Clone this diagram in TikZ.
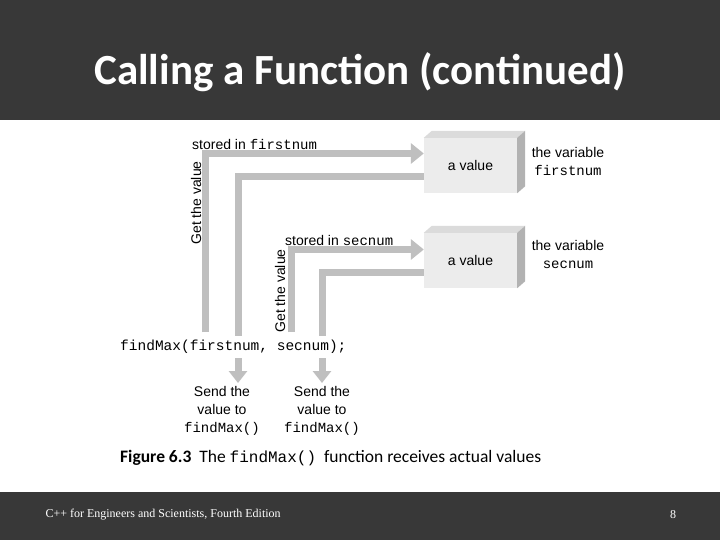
\documentclass[tikz,border=0pt]{standalone}
\usepackage{fontspec}
\setmainfont{Carlito}
\newfontfamily\arialf{Liberation Sans}
\newfontfamily\courf{Liberation Mono}
\newfontfamily\timesf{Liberation Serif}
\usetikzlibrary{arrows.meta}
\begin{document}
\begin{tikzpicture}[x=1pt,y=-1pt,
  bar/.style={line width=7pt,draw=gray!50},
  barh/.style={bar,-{Triangle[length=13pt,width=20pt]}},
  bard/.style={bar,-{Triangle[length=12pt,width=18pt]}},
  lab/.style={font=\arialf\fontsize{14}{15}\selectfont,inner sep=0pt},
  code/.style={font=\courf\fontsize{14.5}{15}\selectfont,inner sep=0pt},
  boxf/.style={fill=gray!15,minimum width=93pt,minimum height=55pt,inner sep=0pt,font=\arialf\fontsize{14}{15}\selectfont}]
\useasboundingbox (0,0) rectangle (720,540);
\fill[white] (0,0) rectangle (720,540);
\fill[black!78] (0,0) rectangle (720,120);
\fill[black!78] (0,492) rectangle (720,540);
\node[text=white,font=\bfseries\fontsize{43}{48}\selectfont] (title) at (360,72) {Calling a Function (continued)};
\node[text=white,anchor=west,font=\timesf\fontsize{12}{13}\selectfont] (foot) at (42,515) {C++ for Engineers and Scientists, Fourth Edition};
\node[text=white,font=\timesf\fontsize{12}{13}\selectfont] (pg) at (673,515) {8};
% boxes
\node[boxf] (b1) at (470.5,165.5) {a value};
\node[boxf] (b2) at (470.5,260.5) {a value};
\foreach \b in {b1,b2}{
  \fill[gray!28] (\b.north west) -- ++(8,-7) -- ([shift={(8,-7)}]\b.north east) -- (\b.north east) -- cycle;
  \fill[gray!60] (\b.north east) -- ++(8,-7) -- ([shift={(8,-7)}]\b.south east) -- (\b.south east) -- cycle;
}
% bars
\coordinate (s1) at (205,332);
\coordinate (s2) at (291,332);
\coordinate (e2) at (238,336);
\coordinate (e4) at (322,336);
\draw[barh] (s1) |- ([yshift=12pt]b1.west);
\draw[bar] ([yshift=-11pt]b1.west) -| (e2);
\draw[barh] (s2) |- ([yshift=11pt]b2.west);
\draw[bar] ([yshift=-12pt]b2.west) -| (e4);
\coordinate (d1) at (238,358); \coordinate (d1e) at (238,383);
\coordinate (d2) at (322,358); \coordinate (d2e) at (322,383);
\draw[bard] (d1) -- (d1e);
\draw[bard] (d2) -- (d2e);
% labels
\node[lab,anchor=west] (t1) at (192,144) {stored in \courf firstnum};
\node[lab,anchor=west] (t2) at (285,240) {stored in \courf secnum};
\node[lab,rotate=90] (g1) at (196,203) {Get the value};
\node[lab,rotate=90] (g2) at (280,291) {Get the value};
\node[lab,align=center] (v1) at (568,161) {the variable\\[3pt]{\courf firstnum}};
\node[lab,align=center] (v2) at (568,254) {the variable\\[3pt]{\courf secnum}};
\node[code,anchor=west] (call) at (120,347) {findMax(firstnum, secnum);};
\node[lab,align=center] (sd1) at (222,411) {Send the\\[3pt]value to\\[3pt]{\courf findMax()}};
\node[lab,align=center] (sd2) at (322,411) {Send the\\[3pt]value to\\[3pt]{\courf findMax()}};
\node[anchor=west,font=\fontsize{17.5}{19}\selectfont,inner sep=0pt] (cap) at (120,458) {\textbf{Figure 6.3}\ \ The {\courf\fontsize{16}{19}\selectfont findMax()}\ \ function receives actual values};
\end{tikzpicture}
\end{document}
